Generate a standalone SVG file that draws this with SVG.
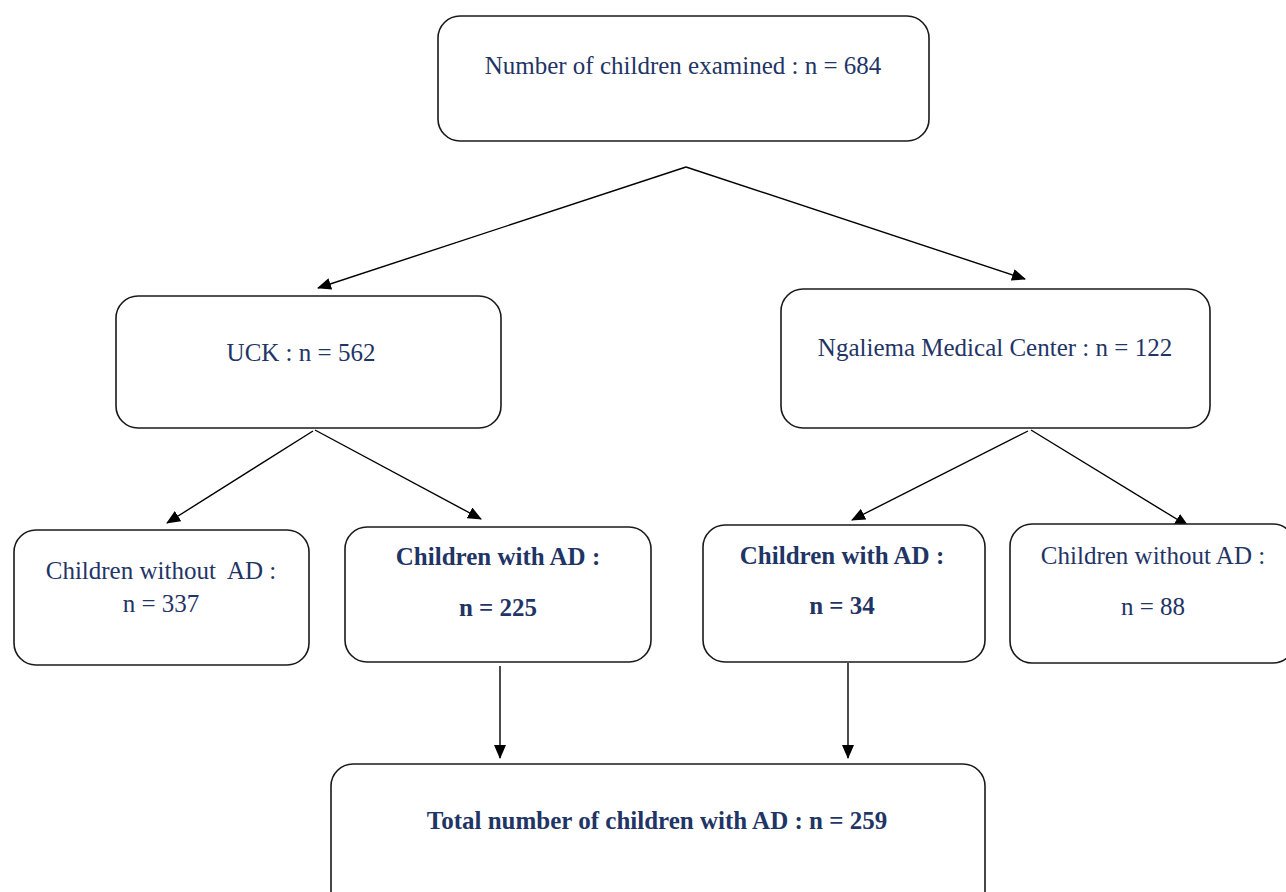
<svg xmlns="http://www.w3.org/2000/svg" width="1286" height="892" viewBox="0 0 1286 892">
<defs>
<marker id="ah" markerWidth="14" markerHeight="12" refX="13" refY="6" orient="auto" markerUnits="userSpaceOnUse">
<path d="M0,0 L14,6 L0,12 Z" fill="#000"/>
</marker>
<style>
.box{fill:#fff;stroke:#1a1a1a;stroke-width:1.6}
.t{font-family:"Liberation Serif","Times New Roman",serif;font-size:25px;fill:#1f3566;text-anchor:middle;white-space:pre}
.b{font-weight:bold}
.c{stroke:#000;stroke-width:1.4;fill:none;marker-end:url(#ah)}
</style>
</defs>
<rect width="1286" height="892" fill="#fff"/>
<g id="connectors">
<line class="c" x1="686" y1="167" x2="318" y2="288"/>
<line class="c" x1="686" y1="167" x2="1025" y2="279"/>
<line class="c" x1="313" y1="431" x2="167" y2="523"/>
<line class="c" x1="315" y1="430" x2="481" y2="519"/>
<line class="c" x1="1028" y1="431" x2="852" y2="520"/>
<line class="c" x1="1031" y1="430" x2="1188" y2="526"/>
<line class="c" x1="500" y1="666" x2="500" y2="758"/>
<line class="c" x1="848" y1="663" x2="848" y2="758"/>
</g>
<g id="n-top">
<rect class="box" x="438" y="16" width="491" height="125" rx="22"/>
<text class="t" x="683" y="74">Number of children examined : n = 684</text>
</g>
<g id="n-uck">
<rect class="box" x="116" y="296" width="385" height="132" rx="22"/>
<text class="t" x="301" y="361">UCK : n = 562</text>
</g>
<g id="n-ngaliema">
<rect class="box" x="781" y="289" width="429" height="139" rx="22"/>
<text class="t" x="995" y="356">Ngaliema Medical Center : n = 122</text>
</g>
<g id="n-uck-without">
<rect class="box" x="14" y="530" width="295" height="135" rx="22"/>
<text class="t" x="161" y="579" xml:space="preserve">Children without  AD :</text>
<text class="t" x="161" y="612">n = 337</text>
</g>
<g id="n-uck-with">
<rect class="box" x="345" y="527" width="306" height="135" rx="22"/>
<text class="t b" x="498" y="565">Children with AD :</text>
<text class="t b" x="498" y="616">n = 225</text>
</g>
<g id="n-ngal-with">
<rect class="box" x="703" y="525" width="282" height="137" rx="22"/>
<text class="t b" x="842" y="564">Children with AD :</text>
<text class="t b" x="842" y="614">n = 34</text>
</g>
<g id="n-ngal-without">
<rect class="box" x="1010" y="524" width="285" height="139" rx="22"/>
<text class="t" x="1153" y="564">Children without AD :</text>
<text class="t" x="1153" y="615">n = 88</text>
</g>
<g id="n-total">
<rect class="box" x="331" y="764" width="654" height="150" rx="22"/>
<text class="t b" x="657" y="829">Total number of children with AD : n = 259</text>
</g>
</svg>
